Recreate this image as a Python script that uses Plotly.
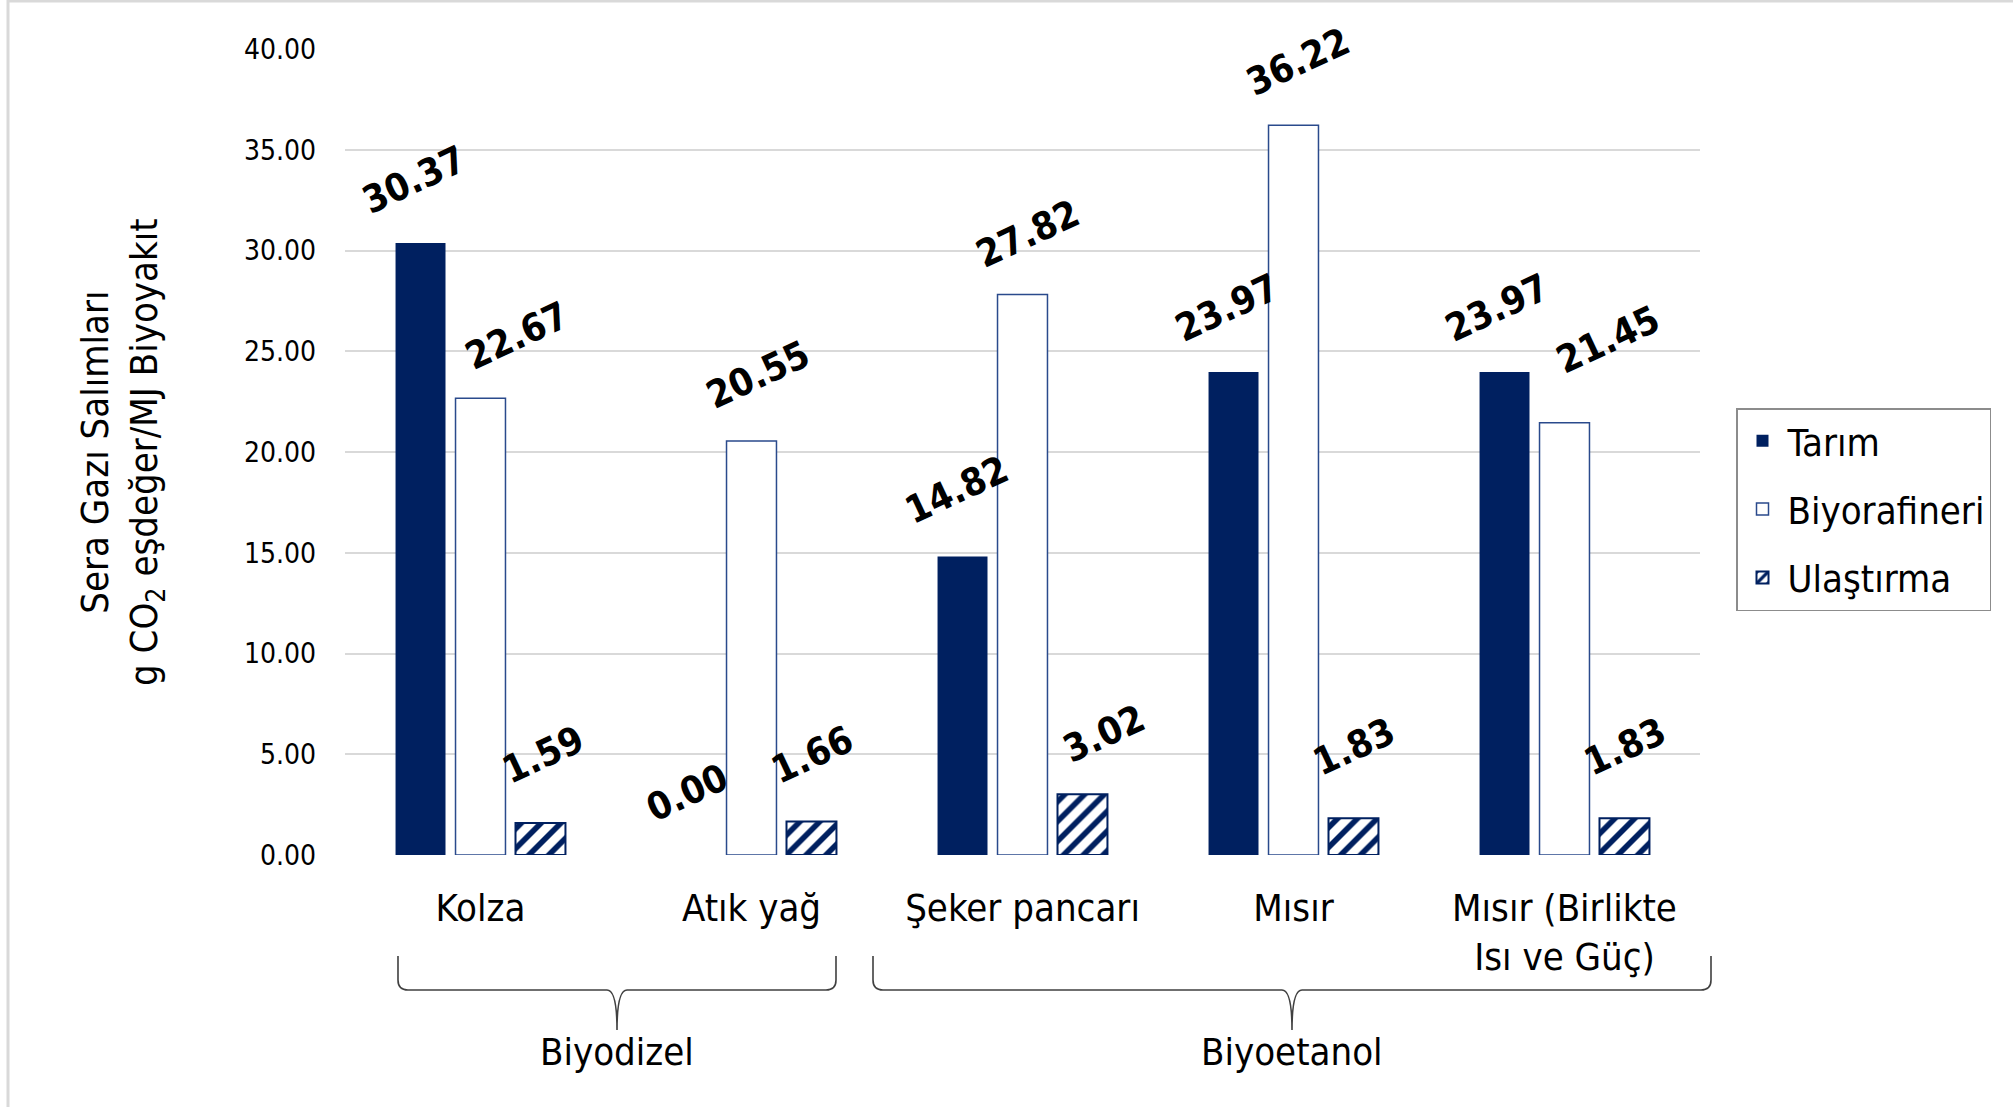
import plotly.graph_objects as go

# ---- data ----
categories = ["Kolza", "Atık yağ", "Şeker pancarı", "Mısır", "Mısır (Birlikte<br>Isı ve Güç)"]
tarim = [30.37, 0.00, 14.82, 23.97, 23.97]
biyorafineri = [22.67, 20.55, 27.82, 36.22, 21.45]
ulastirma = [1.59, 1.66, 3.02, 1.83, 1.83]
series_names = ["Tarım", "Biyorafineri", "Ulaştırma"]
group_names = ["Biyodizel", "Biyoetanol"]
y_title = "Sera Gazı Salımları<br>g CO<sub>2</sub> eşdeğer/MJ Biyoyakıt"

# ---- label nudges (pixels, style only) ----
label_dx = [[-7, -5, -6, -7, -8], [36, 6, 5, 4, 43], [2, 0, 21, 0, 0]]
label_dy = [[63, 62, 66, 64, 64], [62, 66, 60, 63, 83], [68, 67, 60, 71, 71]]

# ---- layout geometry (pixels) ----
W, H = 2013, 1107
L, R, T, B = 345, 1700, 49, 855
NAVY = "#002060"
FONT = "DejaVu Sans Condensed, DejaVu Sans, sans-serif"


def px(x):
    return (x - L) / (R - L)


def py(y):
    return (B - y) / (B - T)


fig = go.Figure()
fig.add_trace(go.Bar(
    name=series_names[0], x=categories, y=tarim, legendgroup="a",
    marker=dict(color=NAVY, line=dict(width=0)),
))
fig.add_trace(go.Bar(
    name=series_names[1], x=categories, y=biyorafineri, legendgroup="b",
    marker=dict(color="white", line=dict(color="#2A4A8C", width=1.5)),
))
fig.add_trace(go.Bar(
    name=series_names[2], x=categories, y=ulastirma, legendgroup="c",
    marker=dict(color=NAVY, line=dict(color=NAVY, width=2),
                pattern=dict(shape="/", fgcolor=NAVY, bgcolor="white",
                             size=14, solidity=0.4, fillmode="replace")),
))

# data labels
annotations = []
for k, vals in enumerate([tarim, biyorafineri, ulastirma]):
    for j, (cat, v) in enumerate(zip(categories, vals)):
        annotations.append(dict(
            x=cat, y=v, xref="x", yref="y", text=f"{v:.2f}", showarrow=False,
            textangle=-25, xshift=(k - 1) * 60 + label_dx[k][j], yshift=label_dy[k][j],
            font=dict(family=FONT, size=38, color="black", weight="bold"),
        ))

# y title
annotations.append(dict(
    x=px(122), y=py(452), xref="paper", yref="paper", text=y_title,
    showarrow=False, textangle=-90, xanchor="center", yanchor="middle",
    font=dict(family=FONT, size=38, color="black"),
))
# group labels
for name, xc in zip(group_names, [617, 1292]):
    annotations.append(dict(
        x=px(xc), y=py(1052), xref="paper", yref="paper", text=name,
        showarrow=False, xanchor="center", yanchor="middle",
        font=dict(family=FONT, size=38, color="black"),
    ))


def bracket(xl, xr, xc, yt=956, yh=990, ytip=1030, r=10):
    pts = [
        ("M", xl, yt), ("L", xl, yh - r), ("Q", xl, yh, xl + r, yh),
        ("L", xc - r, yh), ("Q", xc, yh, xc, ytip), ("Q", xc, yh, xc + r, yh),
        ("L", xr - r, yh), ("Q", xr, yh, xr, yh - r), ("L", xr, yt),
    ]
    s = ""
    for p in pts:
        cmd = p[0]
        coords = p[1:]
        parts = []
        for i in range(0, len(coords), 2):
            parts.append(f"{px(coords[i]):.5f},{py(coords[i + 1]):.5f}")
        s += cmd + " " + " ".join(parts) + " "
    return s.strip()


shapes = [
    dict(type="path", xref="paper", yref="paper", path=bracket(398, 836, 617),
         line=dict(color="#404040", width=1.6)),
    dict(type="path", xref="paper", yref="paper", path=bracket(873, 1711, 1292),
         line=dict(color="#404040", width=1.6)),
    # outer frame (top & left)
    dict(type="line", xref="paper", yref="paper", x0=px(8), x1=px(W), y0=py(1), y1=py(1),
         line=dict(color="#D9D9D9", width=3)),
    dict(type="line", xref="paper", yref="paper", x0=px(8), x1=px(8), y0=py(0), y1=py(H),
         line=dict(color="#D9D9D9", width=3)),
]

fig.update_layout(
    width=W, height=H,
    margin=dict(l=L, r=W - R, t=T, b=H - B, pad=0),
    paper_bgcolor="white", plot_bgcolor="white",
    barmode="group", bargap=0.336, bargroupgap=0.167,
    font=dict(family=FONT, color="black"),
    showlegend=True,
    legend=dict(
        x=px(1736), y=py(408), xanchor="left", yanchor="top",
        bordercolor="#8C8C8C", borderwidth=1.5, bgcolor="white",
        font=dict(family=FONT, size=38, color="black"),
        tracegroupgap=16, itemwidth=40, traceorder="grouped",
    ),
    annotations=annotations,
    shapes=shapes,
)
fig.update_yaxes(
    range=[0, 40], dtick=5, tickformat=".2f", showgrid=True,
    gridcolor="#D9D9D9", gridwidth=1.5, zeroline=False, showline=False,
    tickfont=dict(family=FONT, size=28, color="black"), ticklabelstandoff=28,
)
fig.update_xaxes(
    showline=False, showgrid=False, zeroline=False, ticks="",
    tickfont=dict(family=FONT, size=38, color="black"), ticklabelstandoff=27,
    tickangle=0,
)

fig.write_html("out.html")
